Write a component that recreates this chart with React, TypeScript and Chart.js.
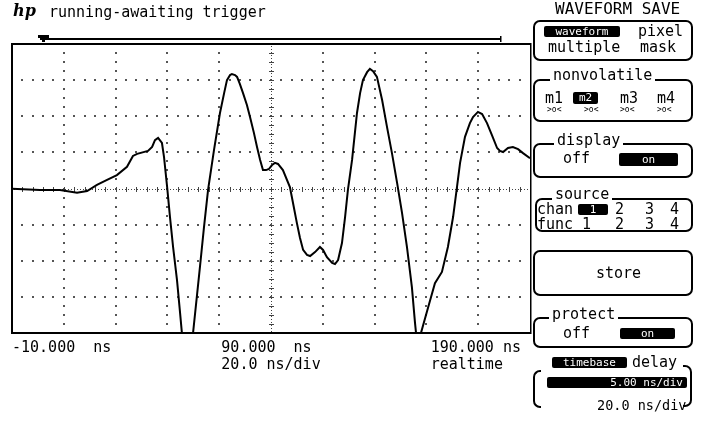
import React, { useEffect, useRef } from 'react';
import { Chart, registerables } from 'chart.js';

Chart.register(...registerables);

// ---- data (time in ns, amplitude in screen divisions) ----
const TIME_NS = [
  -10, 0.8, 8.5, 15.1, 19.0, 22.8, 26.7, 30.5, 34.4, 36.7,
  38.3, 42.5, 44.1, 45.2, 46.4, 47.9, 48.7, 49.9, 51.0, 52.2,
  53.7, 54.9, 55.6, 57.8, 59.9, 62.6, 64.1, 65.7, 68.0, 70.3,
  71.9, 73.0, 74.2, 74.9, 76.1, 76.9, 78.0, 79.2, 80.7, 81.9,
  83.4, 84.6, 85.8, 86.9, 88.1, 89.2, 90.4, 91.5, 92.7, 94.6,
  97.3, 98.5, 100.0, 101.2, 102.4, 103.9, 105.1, 107.0, 108.9, 110.1,
  111.6, 113.6, 114.7, 115.9, 117.4, 118.6, 119.7, 121.3, 123.2, 124.4,
  125.5, 127.1, 128.2, 129.4, 130.9, 132.9, 134.8, 136.7, 138.7, 140.6,
  142.5, 144.4, 145.6, 146.0, 147.0, 147.9, 150.6, 153.3, 156.0, 158.3,
  160.3, 161.8, 163.0, 164.9, 166.8, 168.0, 169.9, 171.5, 173.4, 175.3,
  177.3, 178.4, 179.6, 181.5, 183.4, 185.4, 187.3, 190.0,
];
const TRACE_DIV = [
  -0.01, -0.04, -0.04, -0.12, -0.07, 0.10, 0.24, 0.37, 0.60, 0.90,
  0.96, 1.04, 1.15, 1.34, 1.40, 1.26, 0.87, 0.04, -0.79, -1.62,
  -2.53, -3.45, -4.00, -4.7, -4.00, -2.15, -1.09, -0.04, 1.07, 2.09,
  2.64, 3.00, 3.14, 3.17, 3.14, 3.09, 2.89, 2.64, 2.31, 1.98,
  1.54, 1.15, 0.79, 0.51, 0.51, 0.54, 0.65, 0.71, 0.68, 0.51,
  0.04, -0.40, -0.96, -1.37, -1.70, -1.84, -1.87, -1.76, -1.62, -1.70,
  -1.90, -2.06, -2.09, -1.98, -1.51, -0.79, -0.04, 0.79, 2.09, 2.64,
  3.00, 3.22, 3.31, 3.25, 3.09, 2.45, 1.70, 0.98, 0.15, -0.68,
  -1.62, -2.73, -3.72, -4.00, -4.5, -4.00, -3.31, -2.62, -2.31, -1.62,
  -0.79, 0.04, 0.71, 1.43, 1.81, 1.98, 2.12, 2.06, 1.81, 1.48,
  1.12, 1.04, 1.01, 1.12, 1.15, 1.09, 0.98, 0.84,
];
const X_TICKS = [-10, 90, 190];
const X_TICK_LABELS = [
  ['-10.000  ns'],
  ['90.000  ns ', '20.0 ns/div'],
  ['190.000 ns ', 'realtime   '],
];
const X_MIN = -10;
const X_MAX = 190;
const X_DIVS = 10;
const Y_MIN = -4;
const Y_MAX = 4;
const Y_DIVS = 8;

const MONO = "'DejaVu Sans Mono', 'Liberation Mono', monospace";

const scopePlugin = {
  id: 'scopeScreen',
  beforeDatasetsDraw(chart: any) {
    const { ctx, chartArea: a } = chart;
    const xs = chart.scales.x;
    const ys = chart.scales.y;
    const xStep = (X_MAX - X_MIN) / X_DIVS;
    const yStep = (Y_MAX - Y_MIN) / Y_DIVS;
    const xMid = (X_MIN + X_MAX) / 2;
    const yMid = (Y_MIN + Y_MAX) / 2;
    ctx.save();
    ctx.fillStyle = '#555';
    for (let r = 1; r < Y_DIVS; r++) {
      const v = Y_MIN + r * yStep;
      if (Math.abs(v - yMid) < 1e-6) continue;
      const py = Math.round(ys.getPixelForValue(v)) - 1;
      for (let k = 1; k < X_DIVS * 5; k++) {
        const px = Math.round(xs.getPixelForValue(X_MIN + (k * xStep) / 5)) - 1;
        ctx.fillRect(px, py, 2, 2);
      }
    }
    for (let c = 1; c < X_DIVS; c++) {
      const t = X_MIN + c * xStep;
      if (Math.abs(t - xMid) < 1e-6) continue;
      const px = Math.round(xs.getPixelForValue(t)) - 1;
      for (let k = 1; k < Y_DIVS * 4; k++) {
        const py = Math.round(ys.getPixelForValue(Y_MIN + (k * yStep) / 4)) - 1;
        ctx.fillRect(px, py, 2, 2);
      }
    }
    ctx.fillStyle = '#444';
    const cy = Math.round(ys.getPixelForValue(yMid));
    const cx = Math.round(xs.getPixelForValue(xMid));
    for (let px = a.left + 2; px < a.right; px += 3) ctx.fillRect(px, cy, 1, 1);
    for (let k = 1; k < X_DIVS * 5; k++) {
      const px = Math.round(xs.getPixelForValue(X_MIN + (k * xStep) / 5));
      ctx.fillRect(px, cy - 2, 1, 5);
    }
    for (let py = a.top + 2; py < a.bottom; py += 3) ctx.fillRect(cx, py, 1, 1);
    for (let k = 1; k < Y_DIVS * 4; k++) {
      const py = Math.round(ys.getPixelForValue(Y_MIN + (k * yStep) / 4));
      ctx.fillRect(cx - 2, py, 5, 1);
    }
    ctx.restore();
  },
  afterDatasetsDraw(chart: any) {
    const { ctx, chartArea: a } = chart;
    ctx.save();
    ctx.fillStyle = '#000';
    ctx.fillRect(a.left - 1, a.top - 1, a.right - a.left + 2, 2);
    ctx.fillRect(a.left - 1, a.top - 1, 2, a.bottom - a.top + 2);
    ctx.fillRect(a.left - 1, a.bottom - 1, a.right - a.left + 2, 2);
    ctx.fillRect(a.right, a.top - 1, 1.5, a.bottom - a.top + 2);
    ctx.fillRect(a.left + 28, a.top - 6, a.right - a.left - 58, 2);
    ctx.fillRect(a.right - 30, a.top - 8, 1.5, 6);
    ctx.fillRect(a.left + 26, a.top - 9, 11, 3);
    ctx.fillRect(a.left + 30, a.top - 9, 3, 7);
    ctx.restore();
  },
};

function Txt(p: { x: number; cy: number; s?: number; children: any; italic?: boolean; family?: string; bold?: boolean }) {
  const h = 16;
  return (
    <div
      style={{
        position: 'absolute',
        left: p.x,
        top: p.cy - h / 2,
        height: h,
        lineHeight: `${h}px`,
        fontSize: p.s ?? 15,
        fontFamily: p.family ?? MONO,
        fontStyle: p.italic ? 'italic' : 'normal',
        fontWeight: p.bold ? 'bold' : 'normal',
        whiteSpace: 'pre',
        color: '#000',
      }}
    >
      {p.children}
    </div>
  );
}

function Inv(p: { x1: number; x2: number; y1: number; y2: number; children: any; align?: 'center' | 'right' }) {
  const h = p.y2 - p.y1;
  return (
    <div
      style={{
        position: 'absolute',
        left: p.x1,
        top: p.y1,
        width: p.x2 - p.x1,
        height: h,
        background: '#000',
        color: '#fff',
        borderRadius: 2,
        fontFamily: MONO,
        fontSize: 11,
        lineHeight: `${h}px`,
        textAlign: p.align ?? 'center',
        whiteSpace: 'pre',
        overflow: 'hidden',
        boxSizing: 'border-box',
        paddingRight: p.align === 'right' ? 4 : 0,
      }}
    >
      {p.children}
    </div>
  );
}

function Box(p: { x: number; y: number; w: number; h: number }) {
  return (
    <div
      style={{
        position: 'absolute',
        left: p.x,
        top: p.y,
        width: p.w,
        height: p.h,
        border: '2px solid #000',
        borderRadius: 7,
        boxSizing: 'border-box',
      }}
    />
  );
}

function Title(p: { x: number; cy: number; children: any }) {
  return (
    <div
      style={{
        position: 'absolute',
        left: p.x - 3,
        top: p.cy - 8,
        height: 16,
        lineHeight: '16px',
        padding: '0 3px',
        background: '#fff',
        fontFamily: MONO,
        fontSize: 15,
        whiteSpace: 'pre',
      }}
    >
      {p.children}
    </div>
  );
}

export default function App() {
  const ref = useRef<HTMLCanvasElement | null>(null);

  useEffect(() => {
    if (!ref.current) return;
    const chart = new Chart(ref.current, {
      type: 'line',
      data: {
        datasets: [
          {
            data: TIME_NS.map((t, i) => ({ x: t, y: TRACE_DIV[i] })),
            borderColor: '#000',
            borderWidth: 2,
            pointRadius: 0,
            tension: 0,
            fill: false,
          },
        ],
      },
      options: {
        responsive: false,
        animation: false,
        devicePixelRatio: 1,
        layout: { padding: { left: 12, top: 44, right: 175, bottom: 48 } },
        plugins: { legend: { display: false }, tooltip: { enabled: false } },
        scales: {
          x: {
            type: 'linear',
            min: X_MIN,
            max: X_MAX,
            grid: { display: false, drawTicks: false },
            border: { display: false },
            afterBuildTicks: (s: any) => {
              s.ticks = X_TICKS.map((v) => ({ value: v }));
            },
            afterFit: (s: any) => {
              s.height = 40;
            },
            ticks: {
              autoSkip: false,
              maxRotation: 0,
              align: 'inner',
              padding: 7,
              color: '#000',
              font: { family: MONO, size: 15, lineHeight: 1.1 },
              callback: (v: any) => {
                const i = X_TICKS.indexOf(Number(v));
                return i >= 0 ? X_TICK_LABELS[i] : '';
              },
            },
          },
          y: {
            type: 'linear',
            min: Y_MIN,
            max: Y_MAX,
            display: false,
          },
        },
      },
      plugins: [scopePlugin],
    } as any);
    return () => chart.destroy();
  }, []);

  return (
    <div style={{ position: 'fixed', left: 0, top: 0, width: 705, height: 421, background: '#fff', overflow: 'hidden' }}>
      <canvas ref={ref} width={705} height={421} style={{ position: 'absolute', left: 0, top: 0 }} />

      <Txt x={13} cy={11} s={16} italic bold family="'DejaVu Serif', serif">hp</Txt>
      <Txt x={49} cy={12}>running-awaiting trigger</Txt>

      <Txt x={555} cy={9} s={16}>WAVEFORM SAVE</Txt>
      <Box x={533} y={20} w={160} h={41} />
      <Inv x1={544} x2={620} y1={26} y2={37}>waveform</Inv>
      <Txt x={638} cy={31}>pixel</Txt>
      <Txt x={548} cy={47}>multiple</Txt>
      <Txt x={640} cy={47}>mask</Txt>

      <Box x={533} y={79} w={160} h={43} />
      <Title x={553} cy={75}>nonvolatile</Title>
      <Txt x={545} cy={98}>m1</Txt>
      <Inv x1={573} x2={598} y1={92} y2={104}>m2</Inv>
      <Txt x={620} cy={98}>m3</Txt>
      <Txt x={657} cy={98}>m4</Txt>
      <Txt x={547} cy={110} s={8}>{'>o<'}</Txt>
      <Txt x={584} cy={110} s={8}>{'>o<'}</Txt>
      <Txt x={620} cy={110} s={8}>{'>o<'}</Txt>
      <Txt x={657} cy={110} s={8}>{'>o<'}</Txt>

      <Box x={533} y={143} w={160} h={35} />
      <Title x={557} cy={140}>display</Title>
      <Txt x={563} cy={158}>off</Txt>
      <Inv x1={619} x2={678} y1={153} y2={166}>on</Inv>

      <Box x={535} y={198} w={158} h={34} />
      <Title x={555} cy={194}>source</Title>
      <Txt x={537} cy={209}>chan</Txt>
      <Inv x1={578} x2={608} y1={204} y2={215}>1</Inv>
      <Txt x={615} cy={209}>2</Txt>
      <Txt x={645} cy={209}>3</Txt>
      <Txt x={670} cy={209}>4</Txt>
      <Txt x={537} cy={224}>func</Txt>
      <Txt x={582} cy={224}>1</Txt>
      <Txt x={615} cy={224}>2</Txt>
      <Txt x={645} cy={224}>3</Txt>
      <Txt x={670} cy={224}>4</Txt>

      <Box x={533} y={250} w={160} h={46} />
      <Txt x={596} cy={273}>store</Txt>

      <Box x={533} y={317} w={160} h={31} />
      <Title x={552} cy={314}>protect</Title>
      <Txt x={563} cy={333}>off</Txt>
      <Inv x1={620} x2={675} y1={328} y2={339}>on</Inv>

      <Inv x1={552} x2={627} y1={357} y2={368}>timebase</Inv>
      <Txt x={632} cy={362}>delay</Txt>
      <div style={{ position: 'absolute', left: 533, top: 370, width: 8, height: 38, borderLeft: '2px solid #000', borderTop: '2px solid #000', borderBottom: '2px solid #000', borderRadius: '7px 0 0 7px', boxSizing: 'border-box' }} />
      <div style={{ position: 'absolute', left: 683, top: 365, width: 9, height: 42, borderRight: '2px solid #000', borderTop: '2px solid #000', borderBottom: '2px solid #000', borderRadius: '0 7px 7px 0', boxSizing: 'border-box' }} />
      <Inv x1={547} x2={687} y1={377} y2={388} align="right">5.00 ns/div</Inv>
      <div style={{ position: 'absolute', left: 595, top: 397, width: 88, height: 16, background: '#fff' }} />
      <Txt x={597} cy={405} s={13.5}>20.0 ns/div</Txt>
    </div>
  );
}
